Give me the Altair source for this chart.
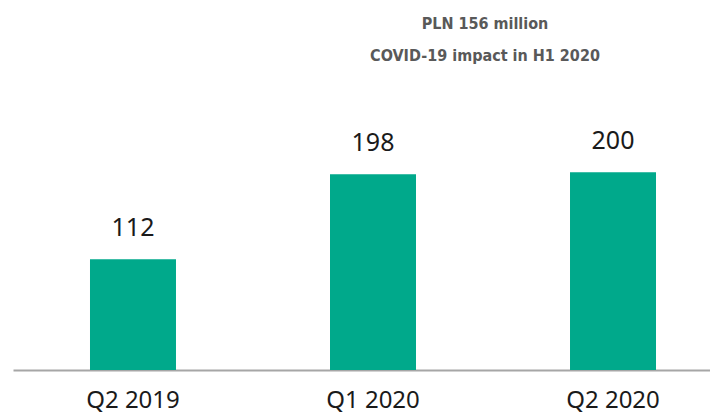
import altair as alt
import pandas as pd

periods = ["Q2 2019", "Q1 2020", "Q2 2020"]
values = [112, 198, 200]
title_lines = ["PLN 156 million", "COVID-19 impact in H1 2020"]

df = pd.DataFrame({"period": periods, "value": values})

BAR = "#00A98B"

x = alt.X(
    "period:N",
    sort=periods,
    scale=alt.Scale(range=[5, 725], paddingInner=0.6417, paddingOuter=0.3208),
    axis=alt.Axis(
        title=None,
        labelAngle=0,
        labelFontSize=24,
        labelFont="Noto Sans",
        labelColor="#1a1a1a",
        labelPadding=18,
        labelBaseline="top",
        ticks=False,
        domainColor="#A6A6A6",
        domainWidth=2,
        grid=False,
    ),
)
y = alt.Y("value:Q", scale=alt.Scale(domain=[0, 366]), axis=None)

bars = alt.Chart(df).mark_bar(color=BAR).encode(x=x, y=y)
labels = alt.Chart(df).mark_text(
    dy=-23, baseline="alphabetic", fontSize=25, font="Noto Sans", color="#1a1a1a"
).encode(x=x, y=y, text="value:Q")

chart = (
    alt.layer(bars, labels)
    .properties(
        width=702,
        height=362,
        padding={"left": 0, "top": 0, "right": 0, "bottom": 45},
        autosize=alt.AutoSizeParams(type="none"),
        title=alt.TitleParams(
            text=title_lines,
            anchor="middle",
            align="center",
            dx=126,
            dy=60,
            font="DejaVu Sans Condensed",
            fontSize=16,
            fontWeight="bold",
            color="#595959",
            lineHeight=32,
        ),
    )
    .configure_view(stroke=None)
)

chart.save("out.html", embed_options={"renderer": "svg", "actions": False})
